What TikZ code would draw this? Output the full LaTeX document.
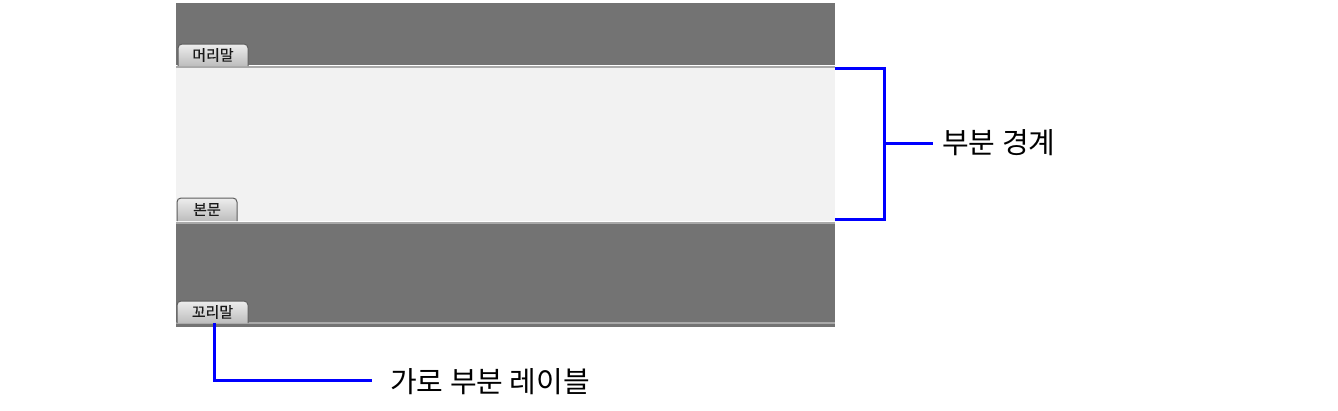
\documentclass[tikz,border=0pt]{standalone}
\usepackage{fontspec}
\newfontfamily\krfont{Noto Sans CJK KR}
\newfontfamily\krtabfont[FakeBold=0.6]{Noto Sans CJK KR}
\begin{document}
\begin{tikzpicture}[x=1pt,y=-1pt,
  sepline/.style={draw=sepgray, line width=2pt},
  tab/.style={draw=tabborder, line width=1pt, rounded corners=4pt,
    top color=tabtop, bottom color=tabbottom},
  tabtext/.style={font=\krtabfont\fontsize{15}{17}\selectfont, text=black!90, anchor=center, inner sep=0pt},
  bracket/.style={draw=linkblue, line width=3pt},
  callout/.style={font=\krfont\fontsize{29}{32}\selectfont, anchor=west, inner sep=0pt}
]
\definecolor{band}{HTML}{737373}
\definecolor{bodybg}{HTML}{F2F2F2}
\definecolor{sepgray}{HTML}{A9A9A9}
\definecolor{tabborder}{HTML}{5E5E5E}
\definecolor{tabtop}{HTML}{EDEDED}
\definecolor{tabbottom}{HTML}{BDBDBD}
\definecolor{linkblue}{HTML}{0000FF}
\useasboundingbox (0,0) rectangle (1338,410);
\fill[white] (0,0) rectangle (1338,410);
% bands
\fill[band] (176,3) rectangle (835,65);
\fill[bodybg] (176,67) rectangle (835,221);
\fill[band] (176,224) rectangle (835,327);
\draw[sepline] (176,66.5) -- (835,66.5);
\draw[sepline] (176,222.5) -- (835,222.5);
\draw[sepline] (176,323) -- (835,323);
% tabs
\path[tab] (178,66) -- (178,44) -- (248,44) -- (248,66);
\node[tabtext] (thead) at (213,55) {머리말};
\path[tab] (177,221) -- (177,198) -- (237,198) -- (237,221);
\node[tabtext] (tbody) at (207,209.5) {본문};
\path[tab] (177,323) -- (177,301) -- (248,301) -- (248,323);
\node[tabtext] (tfoot) at (212.5,312) {꼬리말};
% callouts
\coordinate (btop) at (835,68);
\coordinate (bbot) at (835,219);
\coordinate (bmid) at (884,143);
\node[callout] (lb) at (942,143) {부분 경계};
\draw[bracket] (btop) -- (884,68) -- (884,219) -- (bbot);
\draw[bracket] (bmid) -- (lb.west -| 933,0);
\coordinate (fstart) at (214,323);
\node[callout] (lh) at (390,382) {가로 부분 레이블};
\draw[bracket] (fstart) -- (214,380) -- (372,380);
\end{tikzpicture}
\end{document}
